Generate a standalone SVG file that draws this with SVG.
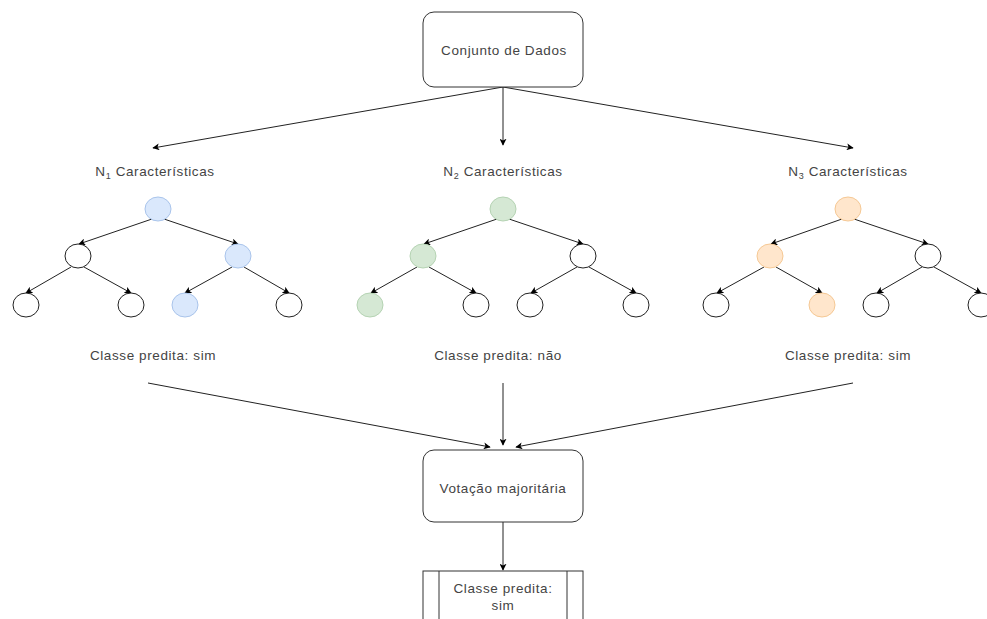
<svg xmlns="http://www.w3.org/2000/svg" width="987" height="619" viewBox="0 0 987 619">
<defs>
<marker id="ah" viewBox="0 0 10 10" refX="9" refY="5" markerWidth="7" markerHeight="7" orient="auto" markerUnits="userSpaceOnUse">
<path d="M0,0 L10,5 L0,10 L2.5,5 Z" fill="#000"/>
</marker>
<style>
text{font-family:"Liberation Sans",Arial,sans-serif;font-size:13.5px;letter-spacing:0.6px;fill:#444;text-anchor:middle}
.box{fill:#fff;stroke:#333;stroke-width:1}
.c{fill:#fff;stroke:#222;stroke-width:1}
.blue{fill:#dae8fc;stroke:#a9c4eb}
.green{fill:#d5e8d4;stroke:#b5d3b3}
.orange{fill:#ffe6cc;stroke:#f5c894}
.e{fill:none;stroke:#222;stroke-width:1;marker-end:url(#ah)}
.sub{font-size:9px}
</style>
</defs>
<rect width="987" height="619" fill="#fff"/>

<g id="connectors">
<path class="e" d="M503,87 L153,148"/>
<path class="e" d="M503,87 L503,145"/>
<path class="e" d="M503,87 L853,148"/>
<!-- tree 1 -->
<path class="e" d="M152,219 L79,244"/>
<path class="e" d="M164,219 L238,244"/>
<path class="e" d="M71,267 L26,293"/>
<path class="e" d="M84,267 L131,293"/>
<path class="e" d="M232,267 L185,293"/>
<path class="e" d="M244,267 L289,293"/>
<!-- tree 2 -->
<path class="e" d="M497,219 L424,244"/>
<path class="e" d="M509,219 L583,244"/>
<path class="e" d="M417,267 L371,293"/>
<path class="e" d="M429,267 L476,293"/>
<path class="e" d="M577,267 L531,293"/>
<path class="e" d="M589,267 L636,293"/>
<!-- tree 3 -->
<path class="e" d="M842,219 L771,244"/>
<path class="e" d="M854,219 L928,244"/>
<path class="e" d="M764,267 L717,293"/>
<path class="e" d="M776,267 L822,293"/>
<path class="e" d="M922,267 L877,293"/>
<path class="e" d="M934,267 L981,293"/>
<!-- to voting -->
<path class="e" d="M148,383 L490,447"/>
<path class="e" d="M503,383 L503,445"/>
<path class="e" d="M853,383 L516,447"/>
<path class="e" d="M503,522 L503,570"/>
</g>

<g id="conjunto">
<rect class="box" x="423" y="12" width="160" height="75" rx="11"/>
<text x="504" y="55">Conjunto de Dados</text>
</g>

<g id="label-n1"><text x="155" y="176">N<tspan class="sub" dy="3">1</tspan><tspan dy="-3"> Características</tspan></text></g>
<g id="label-n2"><text x="503" y="176">N<tspan class="sub" dy="3">2</tspan><tspan dy="-3"> Características</tspan></text></g>
<g id="label-n3"><text x="848" y="176">N<tspan class="sub" dy="3">3</tspan><tspan dy="-3"> Características</tspan></text></g>

<g id="tree1">
<ellipse class="c blue" cx="158" cy="209" rx="13" ry="12"/>
<ellipse class="c" cx="78" cy="256" rx="13" ry="12"/>
<ellipse class="c blue" cx="238" cy="256" rx="13" ry="12"/>
<ellipse class="c" cx="26" cy="305" rx="13" ry="12"/>
<ellipse class="c" cx="131" cy="305" rx="13" ry="12"/>
<ellipse class="c blue" cx="185" cy="305" rx="13" ry="12"/>
<ellipse class="c" cx="289" cy="305" rx="13" ry="12"/>
</g>

<g id="tree2">
<ellipse class="c green" cx="503" cy="209" rx="13" ry="12"/>
<ellipse class="c green" cx="423" cy="256" rx="13" ry="12"/>
<ellipse class="c" cx="583" cy="256" rx="13" ry="12"/>
<ellipse class="c green" cx="370" cy="305" rx="13" ry="12"/>
<ellipse class="c" cx="476" cy="305" rx="13" ry="12"/>
<ellipse class="c" cx="530" cy="305" rx="13" ry="12"/>
<ellipse class="c" cx="636" cy="305" rx="13" ry="12"/>
</g>

<g id="tree3">
<ellipse class="c orange" cx="848" cy="209" rx="13" ry="12"/>
<ellipse class="c orange" cx="770" cy="256" rx="13" ry="12"/>
<ellipse class="c" cx="928" cy="256" rx="13" ry="12"/>
<ellipse class="c" cx="716" cy="305" rx="13" ry="12"/>
<ellipse class="c orange" cx="822" cy="305" rx="13" ry="12"/>
<ellipse class="c" cx="876" cy="305" rx="13" ry="12"/>
<ellipse class="c" cx="981" cy="305" rx="13" ry="12"/>
</g>

<g id="pred1"><text x="153" y="360">Classe predita: sim</text></g>
<g id="pred2"><text x="498" y="360">Classe predita: não</text></g>
<g id="pred3"><text x="848" y="360">Classe predita: sim</text></g>

<g id="votacao">
<rect class="box" x="423" y="450" width="160" height="72" rx="11"/>
<text x="503" y="493">Votação majoritária</text>
</g>

<g id="resultado">
<rect class="box" x="423" y="571" width="160" height="60"/>
<line x1="439" y1="571" x2="439" y2="631" stroke="#333"/>
<line x1="567" y1="571" x2="567" y2="631" stroke="#333"/>
<text x="503" y="593">Classe predita:</text>
<text x="503" y="610">sim</text>
</g>
</svg>
